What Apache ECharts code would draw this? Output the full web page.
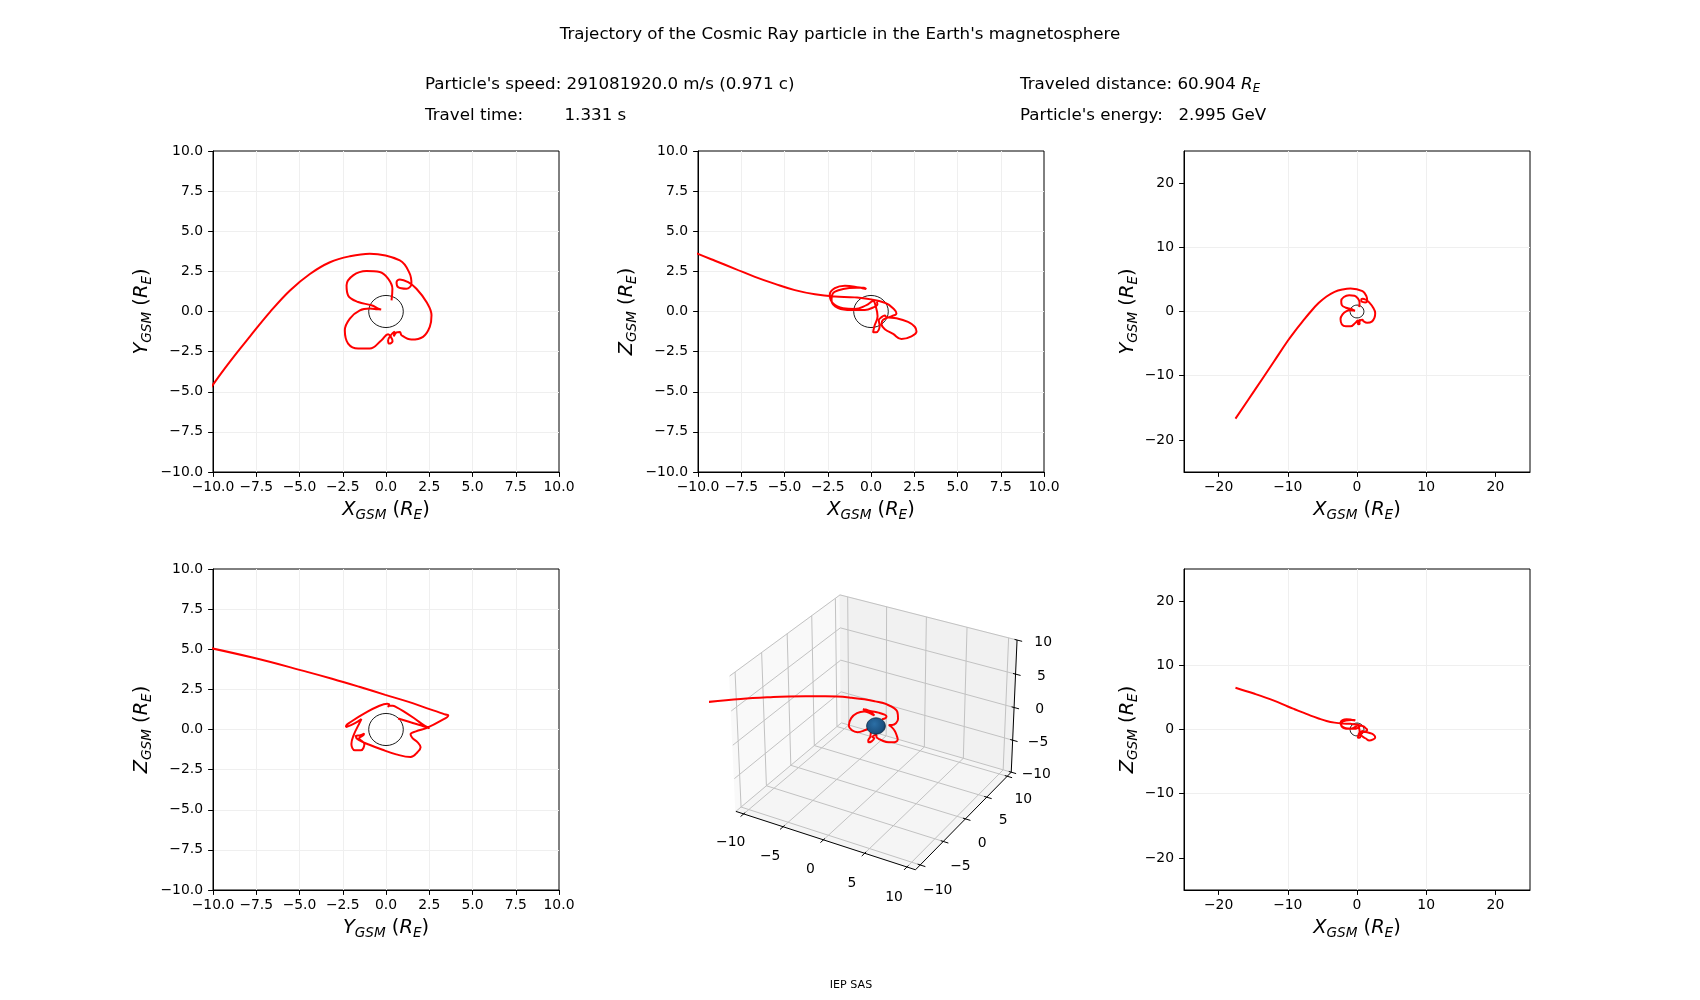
<!DOCTYPE html>
<html>
<head>
<meta charset="utf-8">
<script src="https://cdn.jsdelivr.net/npm/echarts@6/dist/echarts.min.js"></script>
<style>
html,body{margin:0;padding:0;background:#ffffff;}
#c{width:1700px;height:1000px;}
</style>
</head>
<body>
<div id="c"></div>
<script>
// ------------------------- DATA -------------------------
// Trajectory (GSM coordinates, Earth radii), from the Earth outward
const trajX = [0.32,0.37,0.12,-0.36,-1.13,
  -1.90,-2.28,-2.19,-1.61,-0.84,-0.40,-0.28,-0.50,
  -0.94,-1.51,-2.09,-2.38,-2.19,-1.61,-0.94,
  -0.26,0.12,0.28,0.38,0.20,0.12,0.30,0.50,0.45,0.61,0.80,
  0.90,1.47,2.14,2.53,2.63,2.34,1.76,
  1.28,0.80,0.61,0.70,1.18,1.47,1.37,
  0.80,-0.94,-2.09,-3.24,-4.40,-5.55,-6.71,-7.86,-9.02,-10.0,-12.0,-14.9,-17.56];
const trajY = [0.70,1.42,2.05,2.46,2.52,
  2.25,1.63,1.00,0.59,0.39,0.16,0.12,0.14,
  0.18,0.07,-0.44,-1.17,-2.00,-2.31,-2.31,
  -1.79,-1.42,-1.58,-1.85,-2.00,-1.80,-1.45,-1.25,-1.55,-1.30,-1.27,
  -1.48,-1.75,-1.58,-0.96,-0.24,0.59,1.42,
  1.83,2.00,1.83,1.52,1.42,1.73,2.36,
  3.18,3.60,3.44,3.07,2.34,1.31,-0.04,-1.55,-3.12,-4.56,-7.78,-12.45,-16.68];
const trajZ = [0.69,0.45,0.25,0.10,0.10,
  0.22,0.70,1.15,1.40,1.48,1.48,1.40,1.45,
  1.55,1.60,1.45,1.05,0.50,0.20,0.15,
  0.40,0.65,0.30,-0.30,-0.90,-1.30,-1.30,-0.90,-0.55,-0.35,-0.25,
  -0.35,-0.42,-0.65,-0.95,-1.25,-1.55,-1.72,
  -1.40,-1.10,-0.80,-0.52,-0.30,-0.12,0.10,
  0.55,0.88,0.93,1.07,1.33,1.72,2.16,2.66,3.16,3.59,4.50,5.60,6.51];

const earthCenter = [0, 0, 0];
const earthRadius = 1;

const ticksNear = [-10, -7.5, -5, -2.5, 0, 2.5, 5, 7.5, 10];
const ticksFar = [-20, -10, 0, 10, 20];
const ticks3d = [-10, -5, 0, 5, 10];
const rangeNear = [-10, 10];
const rangeFar = [-25, 25];
const lim3dX = [-11, 11];
const lim3dY = [-11, 11];
const lim3dZ = [-10, 10];

const titleText = "Trajectory of the Cosmic Ray particle in the Earth's magnetosphere";
const speedText = "Particle's speed: 291081920.0 m/s (0.971 c)";
const timeLabel = "Travel time:";
const timeValue = "1.331 s";
const distText = "Traveled distance: 60.904 ";
const energyLabel = "Particle's energy:";
const energyValue = "2.995 GeV";
const footerText = "IEP SAS";

// ------------------------- LAYOUT / STYLE -------------------------
const FONT = '"DejaVu Sans", "Liberation Sans", sans-serif';
const COLS = [213, 698, 1184];
const ROWS = [151, 569];
const PW = 346, PH = 321;
const RED = '#ff0000';

const coord = {x: trajX, y: trajY, z: trajZ};
const axisNameStr = {
  x: '{i|X}{s|GSM}{n| (}{i|R}{s|E}{n|)}',
  y: '{i|Y}{s|GSM}{n| (}{i|R}{s|E}{n|)}',
  z: '{i|Z}{s|GSM}{n| (}{i|R}{s|E}{n|)}'
};
const nameRich = {
  i: {fontFamily: FONT, fontStyle: 'italic', fontSize: 19.4, lineHeight: 24, color: '#000', verticalAlign: 'middle'},
  n: {fontFamily: FONT, fontSize: 19.4, lineHeight: 24, color: '#000', verticalAlign: 'middle'},
  s: {fontFamily: FONT, fontStyle: 'italic', fontSize: 13.6, lineHeight: 16, color: '#000', verticalAlign: 'bottom'}
};

const panels = [
  {col: 0, row: 0, h: 'x', v: 'y', far: false},
  {col: 1, row: 0, h: 'x', v: 'z', far: false},
  {col: 2, row: 0, h: 'x', v: 'y', far: true},
  {col: 0, row: 1, h: 'y', v: 'z', far: false},
  {col: 2, row: 1, h: 'x', v: 'z', far: true}
];

const minus = '\u2212';
const fmt = (dec) => (val) => (val < 0 ? minus : '') + Math.abs(val).toFixed(dec);

// ------------------------- 3D PROJECTION (matplotlib-like) -------------------------
const view3d = {elev: 30, azim: -60, dist: 10};
const boxAspect = [4, 4, 3];
function makeProjector(view, limX, limY, limZ, aspect) {
  const n = Math.hypot(aspect[0], aspect[1], aspect[2]);
  const ba = aspect.map(a => a * 1.8294640721620434 / n);
  const R = ba.map(a => a / 2);
  const el = view.elev * Math.PI / 180, az = view.azim * Math.PI / 180;
  const w = [Math.cos(el) * Math.cos(az), Math.cos(el) * Math.sin(az), Math.sin(el)];
  const E = [R[0] + view.dist * w[0], R[1] + view.dist * w[1], R[2] + view.dist * w[2]];
  let u = [-w[1], w[0], 0];
  const un = Math.hypot(u[0], u[1]);
  u = [u[0] / un, u[1] / un, 0];
  const v = [w[1] * u[2] - w[2] * u[1], w[2] * u[0] - w[0] * u[2], w[0] * u[1] - w[1] * u[0]];
  return function (x, y, z) {
    const p = [
      (x - limX[0]) / (limX[1] - limX[0]) * ba[0] - E[0],
      (y - limY[0]) / (limY[1] - limY[0]) * ba[1] - E[1],
      (z - limZ[0]) / (limZ[1] - limZ[0]) * ba[2] - E[2]
    ];
    const xv = u[0] * p[0] + u[1] * p[1] + u[2] * p[2];
    const yv = v[0] * p[0] + v[1] * p[1] + v[2] * p[2];
    const zv = w[0] * p[0] + w[1] * p[1] + w[2] * p[2];
    return [xv / (-zv), yv / (-zv)];
  };
}
const project = makeProjector(view3d, lim3dX, lim3dY, lim3dZ, boxAspect);

// 3D axes box on the page
const P3 = {scale: 1801, cx: 876, cy: 726, left: 710, top: 562, width: 330, height: 335};
const v2dX = [(P3.left - P3.cx) / P3.scale, (P3.left + P3.width - P3.cx) / P3.scale];
const v2dY = [(P3.cy - (P3.top + P3.height)) / P3.scale, (P3.cy - P3.top) / P3.scale];

// ------------------------- OPTION -------------------------
const grids = [], xAxes = [], yAxes = [], series = [];

panels.forEach((p, i) => {
  const rng = p.far ? rangeFar : rangeNear;
  const tk = p.far ? ticksFar : ticksNear;
  const f = p.far ? fmt(0) : fmt(1);
  grids.push({left: COLS[p.col], top: ROWS[p.row], width: PW, height: PH,
    show: true, borderColor: '#000', borderWidth: 1, backgroundColor: '#fff', containLabel: false});
  const common = {
    type: 'value', gridIndex: i, min: rng[0], max: rng[1],
    axisLine: {show: true, onZero: false, lineStyle: {color: '#000', width: 1}},
    axisTick: {show: true, length: 4.9, customValues: tk, lineStyle: {color: '#000', width: 1}},
    splitLine: {show: true, showMinLine: false, showMaxLine: false, lineStyle: {color: '#efefef', width: 1}},
    nameLocation: 'middle',
    nameTextStyle: {rich: nameRich}
  };
  if (!p.far) common.interval = 2.5;
  xAxes.push(Object.assign({}, common, {
    position: 'bottom',
    axisLabel: {customValues: tk, formatter: f, color: '#000', fontSize: 13.9, fontFamily: FONT, margin: 8},
    name: axisNameStr[p.h], nameGap: 26
  }));
  yAxes.push(Object.assign({}, common, {
    position: 'left',
    axisLabel: {customValues: tk, formatter: f, color: '#000', fontSize: 13.9, fontFamily: FONT, margin: 10},
    name: axisNameStr[p.v], nameGap: p.far ? 44 : 59, nameRotate: 90
  }));
  const data = coord[p.h].map((a, k) => [a, coord[p.v][k]]);
  const ci = {x: 0, y: 1, z: 2};
  series.push({
    type: 'custom', xAxisIndex: i, yAxisIndex: i, silent: true, z: 2,
    data: [[earthCenter[ci[p.h]], earthCenter[ci[p.v]], earthRadius]],
    renderItem: (params, api) => {
      const c = api.coord([api.value(0), api.value(1)]);
      const s = api.size([api.value(2), api.value(2)]);
      return {type: 'ellipse', shape: {cx: c[0], cy: c[1], rx: s[0], ry: s[1]},
        style: {fill: 'transparent', stroke: '#000', lineWidth: 0.9}};
    }
  });
  series.push({
    type: 'line', xAxisIndex: i, yAxisIndex: i, data: data, showSymbol: false, symbol: 'none',
    smooth: 0.4, clip: true, z: 3, silent: true,
    lineStyle: {color: RED, width: 2}
  });
});

// 3D panel
const g3 = panels.length;
grids.push({left: P3.left, top: P3.top, width: P3.width, height: P3.height, show: false, containLabel: false});
xAxes.push({type: 'value', gridIndex: g3, min: v2dX[0], max: v2dX[1], show: false, splitLine: {show: false}});
yAxes.push({type: 'value', gridIndex: g3, min: v2dY[0], max: v2dY[1], show: false, splitLine: {show: false}});

function renderBox(params, api) {
  const P = (x, y, z) => api.coord(project(x, y, z));
  const [x0, x1] = lim3dX, [y0, y1] = lim3dY, [z0, z1] = lim3dZ;
  const ch = [];
  const poly = (pts, fill) => ch.push({type: 'polygon', shape: {points: pts.map(q => P(q[0], q[1], q[2]))},
    style: {fill: fill, stroke: fill, lineWidth: 1}});
  const pl = (pts, stroke, w) => ch.push({type: 'polyline', shape: {points: pts.map(q => P(q[0], q[1], q[2]))},
    style: {fill: null, stroke: stroke, lineWidth: w}});
  const txt = (q, t) => {
    const c = P(q[0], q[1], q[2]);
    ch.push({type: 'text', style: {text: t, x: c[0], y: c[1], align: 'center', verticalAlign: 'middle',
      textAlign: 'center', textVerticalAlign: 'middle', font: '13.9px ' + FONT, fill: '#000'}});
  };
  // panes
  poly([[x0, y0, z0], [x0, y1, z0], [x0, y1, z1], [x0, y0, z1]], '#f9f9f9');
  poly([[x0, y1, z0], [x1, y1, z0], [x1, y1, z1], [x0, y1, z1]], '#f1f1f1');
  poly([[x0, y0, z0], [x1, y0, z0], [x1, y1, z0], [x0, y1, z0]], '#f5f5f5');
  const GC = '#c2c2c2';
  ticks3d.forEach(t => {
    pl([[t, y0, z0], [t, y1, z0], [t, y1, z1]], GC, 1);
    pl([[x1, t, z0], [x0, t, z0], [x0, t, z1]], GC, 1);
    pl([[x0, y0, t], [x0, y1, t], [x1, y1, t]], GC, 1);
  });
  // axis lines
  pl([[x0, y0, z0], [x1, y0, z0]], '#000', 1);
  pl([[x1, y0, z0], [x1, y1, z0]], '#000', 1);
  pl([[x1, y1, z0], [x1, y1, z1]], '#000', 1);
  // ticks + labels
  const f = fmt(0);
  ticks3d.forEach(t => {
    pl([[t, y0 + 0.3, z0], [t, y0 - 0.6, z0]], '#000', 1);
    pl([[x1 - 0.3, t, z0], [x1 + 0.6, t, z0]], '#000', 1);
    pl([[x1 - 0.3, y1, t], [x1 + 0.6, y1, t]], '#000', 1);
    txt([t, y0 - 2.64, z0 - 2.65], f(t));
    txt([x1 + 2.08, t, z0 - 2.9], f(t));
    txt([x1 + 2.6, y1 + 1.0, t], f(t));
  });
  return {type: 'group', children: ch};
}
series.push({type: 'custom', xAxisIndex: g3, yAxisIndex: g3, data: [[0, 0]], renderItem: renderBox, z: 1, silent: true, clip: false});
series.push({
  type: 'line', xAxisIndex: g3, yAxisIndex: g3,
  data: trajX.map((x, k) => project(x, trajY[k], trajZ[k])),
  showSymbol: false, symbol: 'none', smooth: 0.4, clip: true, z: 3, silent: true,
  lineStyle: {color: RED, width: 2}
});
series.push({
  type: 'custom', xAxisIndex: g3, yAxisIndex: g3, silent: true, z: 4, clip: false,
  data: [[earthCenter[0], earthCenter[1], earthCenter[2], earthRadius]],
  renderItem: (params, api) => {
    const cx = api.value(0), cy = api.value(1), cz = api.value(2), r = api.value(3);
    const c = api.coord(project(cx, cy, cz));
    const axesD = [[r, 0, 0], [0, r, 0], [0, 0, r]].map(d => {
      const a = api.coord(project(cx + d[0], cy + d[1], cz + d[2]));
      const b = api.coord(project(cx - d[0], cy - d[1], cz - d[2]));
      return [(a[0] - b[0]) / 2, (a[1] - b[1]) / 2];
    });
    let A = 0, B = 0, C = 0;
    axesD.forEach(d => { A += d[0] * d[0]; B += d[0] * d[1]; C += d[1] * d[1]; });
    const m = (A + C) / 2, q = Math.sqrt(((A - C) / 2) ** 2 + B * B);
    const rx = Math.sqrt(m + q), ry = Math.sqrt(Math.max(m - q, 0));
    const th = 0.5 * Math.atan2(2 * B, A - C);
    return {type: 'ellipse', x: c[0], y: c[1], rotation: -th,
      shape: {cx: 0, cy: 0, rx: rx, ry: ry},
      style: {
        fill: {type: 'radial', x: 0.42, y: 0.38, r: 0.75,
          colorStops: [{offset: 0, color: '#2b6fa6'}, {offset: 0.7, color: '#1b5180'}, {offset: 1, color: '#0e2d4a'}]},
        stroke: '#0d2a44', lineWidth: 0.8
      }};
  }
});

// texts
const TS = '16.7px ' + FONT;
const base = {font: TS, fill: '#000', verticalAlign: 'middle', textVerticalAlign: 'middle'};
const graphics = [
  {type: 'text', x: 840, y: 35, style: Object.assign({text: titleText, align: 'center', textAlign: 'center'}, base)},
  {type: 'text', x: 425, y: 84.8, style: Object.assign({text: speedText, align: 'left', textAlign: 'left'}, base)},
  {type: 'text', x: 425, y: 115.5, style: Object.assign({text: timeLabel, align: 'left', textAlign: 'left'}, base)},
  {type: 'text', x: 564.5, y: 115.5, style: Object.assign({text: timeValue, align: 'left', textAlign: 'left'}, base)},
  {type: 'text', x: 1020, y: 84.8, style: Object.assign({
    text: distText + '{i|R}{s|E}', align: 'left', textAlign: 'left',
    rich: {
      i: {fontFamily: FONT, fontStyle: 'italic', fontSize: 16.7, lineHeight: 20, fill: '#000', verticalAlign: 'middle'},
      s: {fontFamily: FONT, fontStyle: 'italic', fontSize: 11.7, lineHeight: 13, fill: '#000', verticalAlign: 'bottom'}
    }}, base)},
  {type: 'text', x: 1020, y: 115.5, style: Object.assign({text: energyLabel, align: 'left', textAlign: 'left'}, base)},
  {type: 'text', x: 1178.5, y: 115.5, style: Object.assign({text: energyValue, align: 'left', textAlign: 'left'}, base)},
  {type: 'text', x: 851, y: 985.5, style: {text: footerText, font: '11.1px ' + FONT, fill: '#000', align: 'center', verticalAlign: 'middle', textAlign: 'center', textVerticalAlign: 'middle'}}
];

const chart = echarts.init(document.getElementById('c'), null, {renderer: 'canvas', width: 1700, height: 1000});
chart.setOption({
  animation: false,
  backgroundColor: '#ffffff',
  grid: grids,
  xAxis: xAxes,
  yAxis: yAxes,
  series: series,
  graphic: graphics
});
</script>
</body>
</html>
